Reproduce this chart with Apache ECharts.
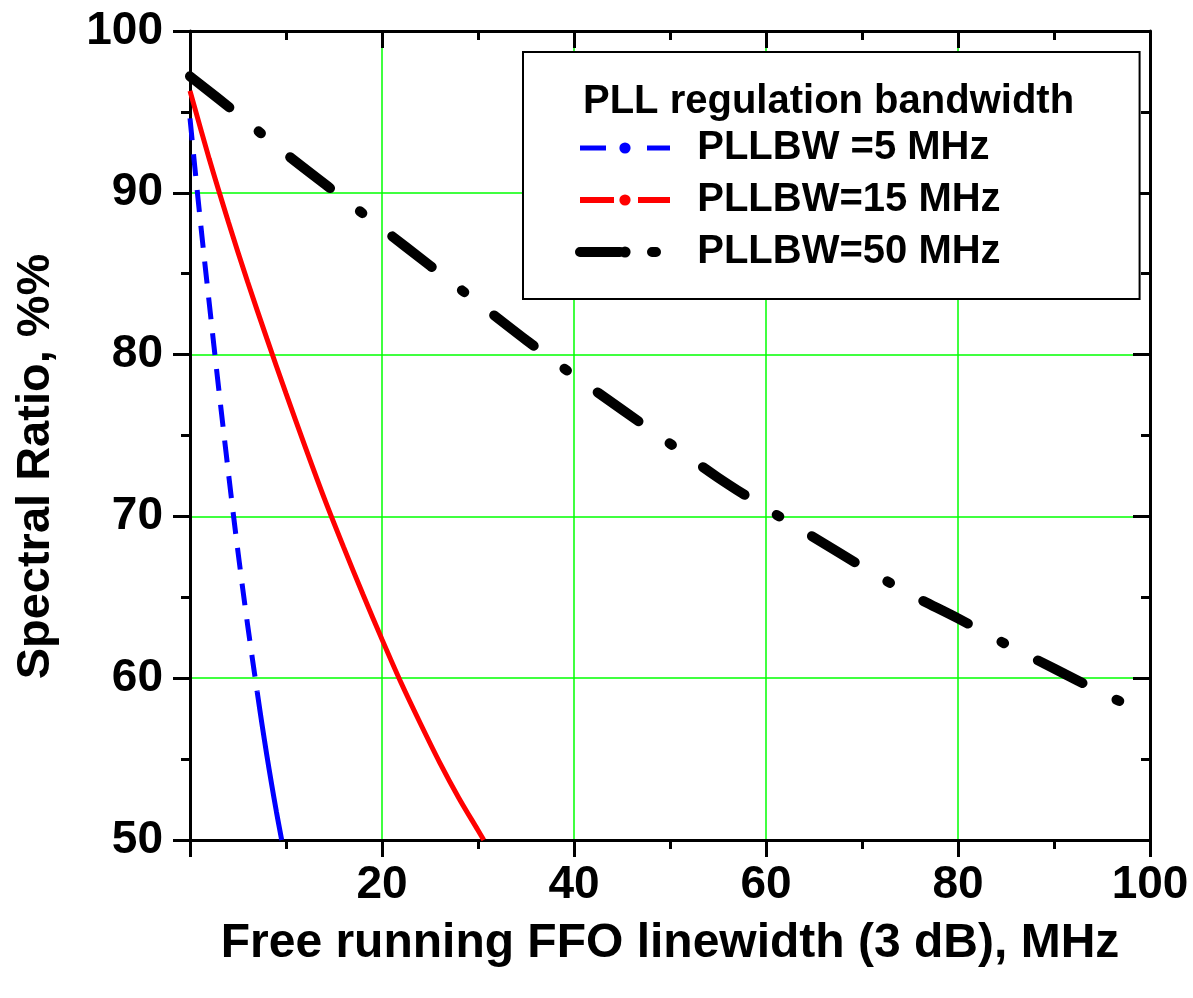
<!DOCTYPE html>
<html>
<head>
<meta charset="utf-8">
<script src="https://cdn.jsdelivr.net/npm/echarts@6/dist/echarts.min.js"></script>
<style>
html,body{margin:0;padding:0;background:#fff;}
#chart{width:1193px;height:998px;}
</style>
</head>
<body>
<div id="chart"></div>
<script>
// ---- Data ----
const blueX  = [0, 0.5, 1, 1.5, 2, 2.5, 3, 3.5, 4, 4.5, 5, 5.5, 6, 6.5, 7, 7.5, 8, 8.5, 9, 9.55];
const blueY  = [94.6, 91.6, 88.7, 85.9, 83.2, 80.5, 77.85, 75.25, 72.7, 70.2, 67.8, 65.5, 63.3, 61.2, 59.15, 57.15, 55.25, 53.45, 51.75, 50.0];
const redX   = [0, 2, 4, 6, 8, 10, 12, 14, 16, 18, 20, 22, 24, 26, 28, 30, 30.6];
const redY   = [96.3, 92.1, 88.2, 84.5, 81.0, 77.6, 74.3, 71.1, 68.1, 65.2, 62.4, 59.7, 57.2, 54.8, 52.6, 50.6, 50.0];
const blackX = [0, 5, 10, 15, 20, 25, 30, 35, 40, 45, 50, 55, 60, 65, 70, 75, 80, 85, 90, 95, 100];
const blackY = [97.2, 94.85, 92.4, 90.1, 87.8, 85.5, 83.2, 80.9, 78.7, 76.6, 74.5, 72.4, 70.5, 68.7, 66.9, 65.2, 63.7, 62.1, 60.6, 59.1, 57.7];
const seriesNames = ['PLLBW =5 MHz', 'PLLBW=15 MHz', 'PLLBW=50 MHz'];
const legendTitle = 'PLL regulation bandwidth';
const xTitle = 'Free running FFO linewidth (3 dB), MHz';
const yTitle = 'Spectral Ratio, %%';
const blueDashEnd = 7; // blue drawn dashed up to here, solid beyond

const pairs = (xs, ys) => xs.map((x, i) => [x, ys[i]]);
const bluePts = pairs(blueX, blueY);
const blueTop = bluePts.filter(p => p[0] <= blueDashEnd);
const blueBottom = bluePts.filter(p => p[0] >= blueDashEnd);

const FONT = "'Liberation Sans', Arial, sans-serif";
const axisLineStyle = {color: '#000', width: 3};

function xAx(pos) {
  const bottom = pos === 'bottom';
  return {
    type: 'value', position: pos, min: 0, max: 100, interval: 20,
    axisLine: {show: true, onZero: false, lineStyle: axisLineStyle},
    axisTick: {show: true, inside: !bottom, length: 17, lineStyle: {color: '#000', width: 3}},
    minorTick: {show: true, splitNumber: 2, length: 9, lineStyle: {color: '#000', width: 3}},
    axisLabel: {show: bottom, showMinLabel: false, fontSize: 46, fontWeight: 'bold', fontFamily: FONT, color: '#000', margin: 22},
    splitLine: {show: bottom, showMinLine: false, showMaxLine: false, lineStyle: {color: '#00ff00', width: 1.5}},
    name: bottom ? xTitle : '', nameLocation: 'middle', nameGap: 80,
    nameTextStyle: {fontSize: 48, fontWeight: 'bold', fontFamily: FONT, color: '#000'}
  };
}
function yAx(pos) {
  const left = pos === 'left';
  return {
    type: 'value', position: pos, min: 50, max: 100, interval: 10,
    axisLine: {show: true, onZero: false, lineStyle: axisLineStyle},
    axisTick: {show: true, inside: !left, length: 17, lineStyle: {color: '#000', width: 3}},
    minorTick: {show: true, splitNumber: 2, length: 9, lineStyle: {color: '#000', width: 3}},
    axisLabel: {show: left, fontSize: 46, fontWeight: 'bold', fontFamily: FONT, color: '#000', margin: 27},
    splitLine: {show: left, showMinLine: false, showMaxLine: false, lineStyle: {color: '#00ff00', width: 1.5}},
    name: left ? yTitle : '', nameLocation: 'middle', nameGap: 130, nameRotate: 90,
    nameTextStyle: {fontSize: 47, fontWeight: 'bold', fontFamily: FONT, color: '#000', padding: [0, 62, 0, 0]}
  };
}

const chart = echarts.init(document.getElementById('chart'), null, {renderer: 'canvas'});
chart.setOption({
  animation: false,
  backgroundColor: '#fff',
  grid: {left: 190, right: 43, top: 31, bottom: 158, containLabel: false},
  title: {
    text: legendTitle, left: 578, top: 77, z: 10,
    textStyle: {fontSize: 40, fontWeight: 'bold', fontFamily: FONT, color: '#000'}
  },
  legend: {
    orient: 'vertical', left: 523, top: 52,
    padding: [76, 139, 27, 52], itemGap: 12, itemWidth: 90, itemHeight: 14,
    backgroundColor: '#fff', borderColor: '#000', borderWidth: 2,
    selectedMode: false,
    formatter: n => '  ' + n,
    textStyle: {fontSize: 40, fontWeight: 'bold', fontFamily: FONT, color: '#000'},
    data: [
      {name: seriesNames[0], lineStyle: {type: [26, 20, 3, 18], width: 5, color: '#0000ff'}},
      {name: seriesNames[1], lineStyle: {type: [34, 11, 3, 10], width: 6, color: '#ff0000'}},
      {name: seriesNames[2], lineStyle: {type: [40, 32, 4, 40], width: 10, color: '#000', cap: 'round'}}
    ]
  },
  xAxis: [xAx('bottom'), xAx('top')],
  yAxis: [yAx('left'), yAx('right')],
  series: [
    {name: seriesNames[0], type: 'line', data: blueTop, symbol: 'none', smooth: 0.3,
     lineStyle: {color: '#0000ff', width: 5, type: [22, 14]}, itemStyle: {color: '#0000ff'}, z: 3},
    {name: seriesNames[0] + ' ', type: 'line', data: blueBottom, symbol: 'none', smooth: 0.3,
     lineStyle: {color: '#0000ff', width: 5, type: 'solid'}, itemStyle: {color: '#0000ff'}, z: 3},
    {name: seriesNames[1], type: 'line', data: pairs(redX, redY), symbol: 'none', smooth: 0.3,
     lineStyle: {color: '#ff0000', width: 5, type: 'solid'}, itemStyle: {color: '#ff0000'}, z: 3},
    {name: seriesNames[2], type: 'line', data: pairs(blackX, blackY), symbol: 'none', smooth: 0.3,
     lineStyle: {color: '#000', width: 10, type: [50, 38, 3, 38], cap: 'round'}, itemStyle: {color: '#000'}, z: 3}
  ]
});
</script>
</body>
</html>
